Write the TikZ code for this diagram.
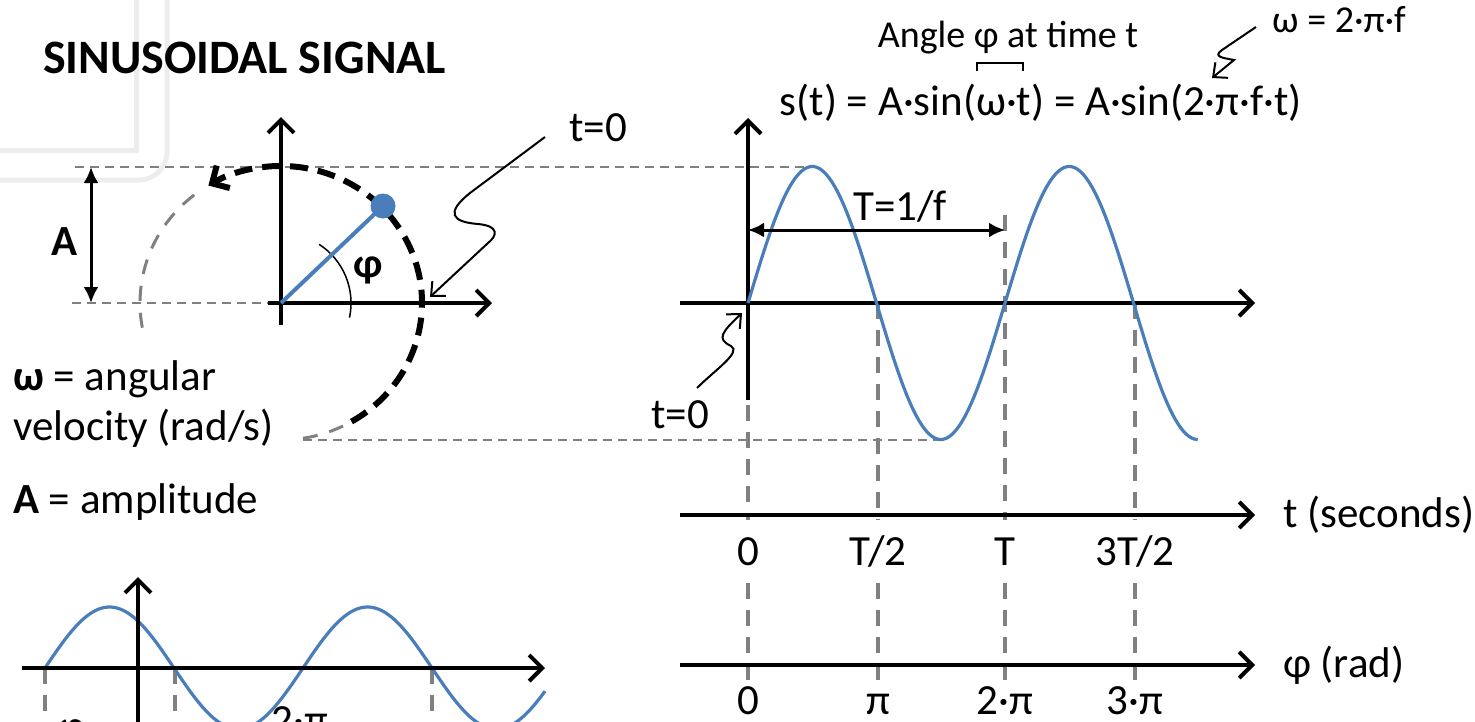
\documentclass[tikz,border=0pt]{standalone}
\usepackage{fontspec}
\setmainfont{Carlito}
\usetikzlibrary{arrows.meta}
\definecolor{sigblue}{HTML}{4A7EBB}
\definecolor{dgray}{HTML}{808080}
\definecolor{faint}{HTML}{EDEDED}
\newcommand\setfs[1]{\fontsize{#1}{#1}\selectfont}
\begin{document}
\begin{tikzpicture}[x=1pt,y=-1pt,
  ax/.style={line width=4pt,-{Straight Barb[length=13pt,width=26pt]}},
  dblarrow/.style={line width=3pt,{Latex[length=16pt,width=15pt]}-{Latex[length=16pt,width=15pt]}},
  hdash/.style={dgray,line width=2.5pt,dash pattern=on 9pt off 6pt},
  vdash/.style={dgray,line width=3.5pt,dash pattern=on 16pt off 11pt},
  sig/.style={sigblue,line width=3.2pt},
  squig/.style={line width=2pt,-{Straight Barb[length=11pt,width=20pt]}},
  lbl/.style={font=\setfs{43},inner sep=0pt},
  sml/.style={font=\setfs{38},inner sep=0pt},
  faintline/.style={faint,line width=5pt}]
\useasboundingbox (0,0) rectangle (1475,721);
\clip (0,0) rectangle (1475,721);
% faint background frame corners
\draw[faintline] (136,0) -- (136,150) -- (0,150);
\draw[faintline] (167,0) -- (167,152) arc[start angle=0,end angle=90,radius=28] -- (0,180);
% title
\node[anchor=base west,font=\bfseries\setfs{48},inner sep=0pt] (title) at (43,73) {SINUSOIDAL SIGNAL};
% ---- rotating phasor ----
\coordinate (O1) at (281,303);
\coordinate (P1) at (813,167);
\coordinate (V1) at (940,440);
\draw[hdash] (75,167) -- (P1);
\draw[hdash] (72,303) -- (O1);
\draw[hdash] (303,440) -- (V1);
\draw[dgray,line width=3pt,dash pattern=on 15pt off 12pt] (194.2,195) arc[start angle=-128,end angle=-192,x radius=141,y radius=137];
\draw[dgray,line width=3pt,dash pattern=on 15pt off 12pt] (303,438.3) arc[start angle=81,end angle=62,x radius=141,y radius=137];
\draw[line width=6pt,dash pattern=on 18pt off 10pt,-{Straight Barb[length=13pt,width=26pt]}] (351.5,421.6) arc[start angle=60,end angle=-121,x radius=141,y radius=137];
\draw[ax] (281,325) -- (281,117);
\draw[ax] (268,303) -- (492,303);
\draw[line width=1.5pt] (349.5,317.6) arc[start angle=12,end angle=-57,radius=70];
\coordinate (D1) at (383,206);
\draw[sigblue,line width=4pt] (O1) -- (D1);
\fill[sigblue] (D1) circle (12.5);
\node[font=\bfseries\setfs{42},inner sep=0pt] (phi) at (368,270) {φ};
\draw[dblarrow] (91,167) -- (91,303);
\node[font=\bfseries\setfs{43},inner sep=0pt] (Alab) at (65,242) {A};
\node[lbl] (t0a) at (598,128) {t=0};
\coordinate (t0aend) at (430,297);
\draw[squig] (545,137) -- (470,193) .. controls (445,213) and (452,222) .. (478,224) .. controls (500,226) and (497,236) .. (488,243) -- (t0aend);
\node[lbl,anchor=base west] (om) at (13,390) {\textbf{ω} = angular};
\node[lbl,anchor=base west] (vel) at (13,440) {velocity (rad/s)};
\node[lbl,anchor=base west] (amp) at (13,513) {\textbf{A} = amplitude};
% ---- time graph ----
\foreach \xx/\yy in {748/405,878/303,1005/215,1135/303}{
  \draw[vdash] (\xx,\yy) -- (\xx,520);
  \draw[vdash] (\xx,583) -- (\xx,683);
}
\draw[ax] (748,400) -- (748,118);
\draw[ax] (680,303) -- (1255,303);
\draw[sig] plot[domain=0:449.75,samples=240] ({748+\x},{303-136.5*sin(\x/257*360)});
\draw[dblarrow] (748,230) -- (1005,230);
\node[lbl] (Tf) at (900,206) {T=1/f};
\node[lbl] (t0b) at (680,415) {t=0};
\coordinate (t0bend) at (742,313);
\draw[squig] (697,388) .. controls (715,370) and (742,352) .. (731,346) .. controls (716,339) and (722,332) .. (t0bend);
% formula
\node[sml] (ang) at (1008,38) {Angle φ at time t};
\node[lbl] (form) at (1041,103) {s(t) = A·sin(ω·t) = A·sin(2·π·f·t)};
\draw[line width=1.5pt] (977,71) -- (977,63) -- (1023,63) -- (1023,71);
\node[sml,anchor=west] (omf) at (1272,20) {ω = 2·π·f};
\coordinate (omend) at (1212,78);
\draw[squig] (1256,27) -- (1222,50) .. controls (1212,57) and (1224,58) .. (1234,60) -- (omend);
% time / phase axes
\draw[ax] (680,515) -- (1255,515);
\node[lbl,anchor=west] (tsec) at (1283,515) {t (seconds)};
\node[lbl,anchor=base] (l0) at (748,565) {0};
\node[lbl,anchor=base] (l1) at (878,565) {T/2};
\node[lbl,anchor=base] (l2) at (1005,565) {T};
\node[lbl,anchor=base] (l3) at (1135,565) {3T/2};
\draw[ax] (680,665) -- (1255,665);
\node[lbl,anchor=west] (prad) at (1283,665) {φ (rad)};
\node[lbl,anchor=base] (m0) at (748,714) {0};
\node[lbl,anchor=base] (m1) at (878,714) {π};
\node[lbl,anchor=base] (m2) at (1005,714) {2·π};
\node[lbl,anchor=base] (m3) at (1135,714) {3·π};
% ---- bottom-left phase graph ----
\foreach \xx in {45,175,432}{ \draw[vdash] (\xx,668) -- (\xx,730); }
\draw[sig] plot[domain=0:500,samples=200] ({45+\x},{668-61*sin(\x/258*360)});
\draw[ax] (22,668) -- (545,668);
\draw[ax] (138,730) -- (138,577);
\node[lbl,anchor=base] (bphi) at (72,740) {φ};
\node[lbl,anchor=base] (b2pi) at (300,734) {2·π};
\end{tikzpicture}
\end{document}
